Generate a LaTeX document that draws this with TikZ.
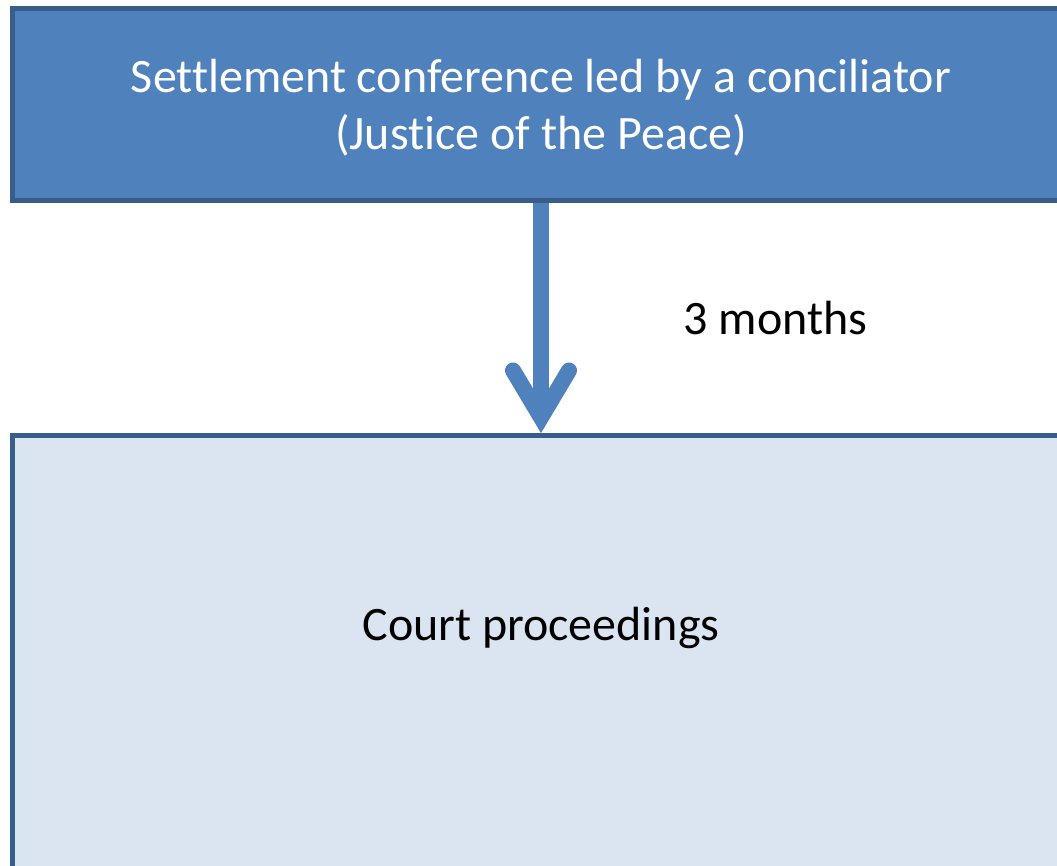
\documentclass[tikz,border=0pt]{standalone}
\usepackage{fontspec}
\setmainfont{Carlito}[Ligatures=NoCommon]
\usetikzlibrary{calc}
\definecolor{boxblue}{HTML}{4F81BD}
\definecolor{boxline}{HTML}{385D8A}
\definecolor{boxpale}{HTML}{DBE5F1}
\begin{document}
\begin{tikzpicture}[x=1pt, y=-1pt,
        stage/.style={draw=boxline, line width=5pt, minimum width=1057pt, inner sep=0pt, align=center, font=\fontsize{48}{57}\selectfont},
        flow/.style={draw=boxblue, line width=16pt}]
    \useasboundingbox (0,0) rectangle (1057,866);
    \clip (0,0) rectangle (1057,866);
    \node[stage, fill=boxblue, text=white, minimum height=191.5pt, text depth=1pt] (conf) at (541,104.75) {Settlement conference led by a conciliator\\(Justice of the Peace)};
    \node[stage, fill=boxpale, minimum height=500pt, anchor=north] (court) at (541,432.5) {};
    \node[font=\fontsize{48}{57}\selectfont] (courttxt) at (541,628) {Court proceedings};
    \node[font=\fontsize{48}{57}\selectfont] (months) at (775.5,318) {3 months};
    \draw[flow, shorten >=20pt] (conf.south) -- (court.north);
    \draw[flow, line cap=round] ($(court.north)+(-28,-62)$) -- ($(court.north)+(0,-15)$) -- ($(court.north)+(28,-62)$);
\end{tikzpicture}
\end{document}
